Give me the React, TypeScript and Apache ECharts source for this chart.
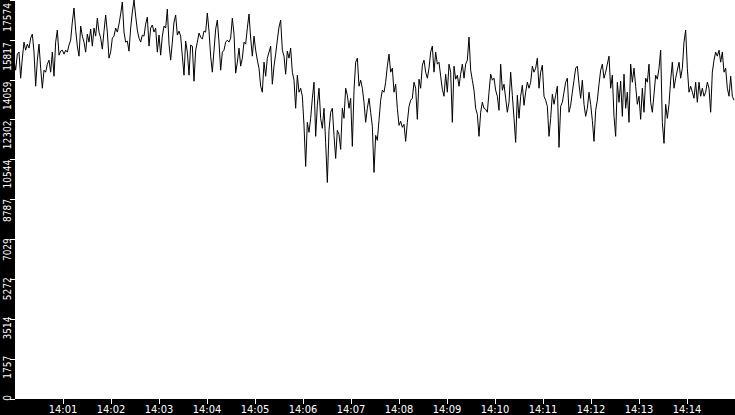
import React, { useEffect, useRef } from "react";
import * as echarts from "echarts";

// Sampling: seconds of the day (14:00:00 = 50400), one reading every 25/12 s
const START_SEC = 50398.75;
const STEP_SEC = 25 / 12;

// x axis range (14:00 – 14:15) and y axis maximum
const X_MIN = 50400;
const X_MAX = 51300;
const Y_MAX = 17574.6;

// Readings, 14:00:00 – 14:02:30
const seg1 = [
  14925, 14483, 15190, 15278, 14130, 15013, 15719, 15366, 15631, 15455,
  15896, 16073, 15278, 13777, 14925, 15631, 14571, 13688, 14483, 14395,
  14748, 14925, 14395, 15278, 14218, 15719, 16249, 15145, 15322, 15366,
  15190, 15366, 15278, 15587, 15808, 16603, 17221, 16249, 15543, 15101,
  16426, 15984, 15719, 15278, 16073, 15719, 16293, 15543, 16338, 15984,
  16779, 16161, 15896, 15410, 16205, 16912, 16161, 15013, 15278, 15896,
  15984, 16338, 16161, 16514, 16956, 17486, 16161, 15719, 15764, 15322,
  16338, 17044, 17574, 16867,
];
// 14:02:30 – 14:05:00
const seg2 = [
  16249, 15896, 15719, 16029, 15984, 16514, 16823, 15543, 16338, 16470,
  16161, 16338, 15278, 16029, 15145, 15984, 16426, 16338, 17177, 15631,
  14925, 15719, 16603, 16912, 16029, 16205, 15984, 15101, 14262, 15764,
  15278, 14262, 15587, 15543, 13997, 15366, 15719, 16117, 15940, 15852,
  16205, 16161, 17000, 16205, 15101, 14395, 15366, 16293, 16691, 15719,
  14483, 15278, 15366, 15719, 15808, 15719, 15896, 16779, 16073, 14351,
  14836, 15455, 14660, 15013, 15719, 15631, 16338, 16956, 15896, 15101,
  15984, 15366,
];
// 14:05:00 – 14:07:30
const seg3 = [
  14925, 14571, 13777, 13512, 14836, 14218, 15013, 15278, 15543, 13865,
  14660, 15190, 15808, 16382, 16691, 15366, 15101, 14306, 15322, 15013,
  15455, 14395, 14042, 12805, 14262, 13512, 13688, 13335, 12054, 10244,
  12187, 11745, 12364, 13247, 13953, 11569, 12938, 13688, 12364, 11922,
  12805, 11304, 9538, 11834, 12629, 12805, 11613, 10597, 11834, 11657,
  10995, 12805, 12364, 13688, 13379, 12805, 13247, 11127, 13600, 14836,
  15013, 13777, 14042, 13688, 13070, 12187, 12805, 13247, 12629, 12010,
  9979, 11613,
];
// 14:07:30 – 14:10:00
const seg4 = [
  11392, 12275, 13158, 13600, 13512, 13953, 14660, 15190, 14395, 14571,
  13512, 13865, 12805, 12054, 12231, 11966, 12099, 11348, 12187, 12893,
  13158, 13247, 13953, 13688, 12319, 14086, 13688, 14704, 14925, 14395,
  14130, 14571, 15278, 15543, 14395, 15278, 14748, 14836, 14218, 13644,
  13335, 14306, 13512, 14748, 14395, 12187, 14660, 14086, 14262, 13777,
  14306, 14748, 14130, 14748, 14925, 15940, 14483, 14042, 13600, 12805,
  12540, 11569, 12629, 13070, 12805, 12761, 12629, 13512, 14306, 14042,
  14130, 13600,
];
// 14:10:00 – 14:12:30
const seg5 = [
  13335, 12717, 14748, 13600, 13865, 13247, 12629, 13070, 14395, 13379,
  12364, 11304, 13379, 12364, 13335, 13821, 12938, 13512, 13953, 13688,
  13953, 14660, 14395, 14571, 15013, 13688, 14395, 14704, 13335, 13158,
  12893, 11569, 12364, 13423, 12982, 13379, 13777, 11083, 12893, 13070,
  13512, 13953, 14130, 12629, 12938, 13512, 14042, 14571, 14660, 13865,
  13247, 14042, 12982, 12452, 12805, 13512, 12982, 12275, 11348, 12717,
  13158, 13865, 14483, 14748, 14130, 14395, 14748, 15101, 13688, 14262,
  12452, 11569,
];
// 14:12:30 – 14:15:00
const seg6 = [
  13953, 13070, 13997, 12452, 14306, 12805, 13512, 12187, 14748, 13953,
  14571, 13777, 12982, 13335, 12319, 13688, 12629, 14130, 13953, 14748,
  13070, 12629, 13423, 14262, 14086, 14571, 15366, 12187, 11260, 12982,
  12364, 12982, 14042, 14836, 13688, 14130, 14483, 14836, 14130, 14571,
  15719, 16249, 14571, 13512, 13777, 13512, 13247, 13953, 13070, 13953,
  13335, 13688, 13335, 13512, 13953, 13688, 12629, 14395, 14925, 15278,
  15101, 15366, 14836, 15278, 14395, 14571, 13688, 13335, 14218, 13335,
  13158,
];

const values = [...seg1, ...seg2, ...seg3, ...seg4, ...seg5, ...seg6];

const FONT = "'DejaVu Sans Condensed', 'DejaVu Sans', sans-serif";

function fmtTime(v: number): string {
  const h = Math.floor(v / 3600);
  const m = Math.floor((v % 3600) / 60);
  return `${String(h).padStart(2, "0")}:${String(m).padStart(2, "0")}`;
}

export default function App() {
  const ref = useRef<HTMLDivElement>(null);

  useEffect(() => {
    document.body.style.margin = "0";
    document.body.style.background = "#000";
    if (!ref.current) return;
    const chart = echarts.init(ref.current, null, { renderer: "svg" });
    const data = values.map((v, i) => [START_SEC + i * STEP_SEC, v]);
    chart.setOption({
      animation: false,
      backgroundColor: "#000",
      grid: [
        { left: 15, right: 0, top: 0, bottom: 16, show: true, backgroundColor: "#fff", borderWidth: 0 },
        { left: 15, right: 0, top: -4, bottom: 20, show: false },
      ],
      xAxis: [
        {
          type: "value",
          gridIndex: 0,
          min: X_MIN,
          max: X_MAX,
          interval: 60,
          axisLine: { show: false },
          axisTick: { show: true, length: 5, lineStyle: { color: "#fff", width: 1 } },
          splitLine: { show: false },
          axisLabel: {
            color: "#fff",
            fontSize: 11,
            fontFamily: FONT,
            margin: 5,
            showMinLabel: false,
            showMaxLabel: false,
            formatter: (v: number) => fmtTime(v),
          },
        },
        { type: "value", gridIndex: 1, min: X_MIN, max: X_MAX, show: false },
      ],
      yAxis: [
        {
          type: "value",
          gridIndex: 0,
          min: 0,
          max: Y_MAX,
          interval: Y_MAX / 10,
          axisLine: { show: false },
          axisTick: { show: true, length: 5, lineStyle: { color: "#fff", width: 1 } },
          splitLine: { show: false },
          axisLabel: { show: false },
        },
        {
          type: "value",
          gridIndex: 1,
          min: 0,
          max: Y_MAX,
          interval: Y_MAX / 10,
          axisLine: { show: false },
          axisTick: { show: false },
          splitLine: { show: false },
          axisLabel: {
            rotate: 90,
            align: "right",
            color: "#fff",
            fontSize: 10,
            fontFamily: FONT,
            margin: 3,
            formatter: (v: number) => String(Math.floor(v + 1e-6)),
          },
        },
      ],
      series: [
        {
          type: "line",
          xAxisIndex: 0,
          yAxisIndex: 0,
          data,
          showSymbol: false,
          symbol: "none",
          silent: true,
          lineStyle: { color: "#000", width: 1 },
        },
      ],
    });
    return () => chart.dispose();
  }, []);

  return (
    <div
      ref={ref}
      style={{ position: "absolute", left: 0, top: 0, width: 735, height: 415 }}
    />
  );
}
